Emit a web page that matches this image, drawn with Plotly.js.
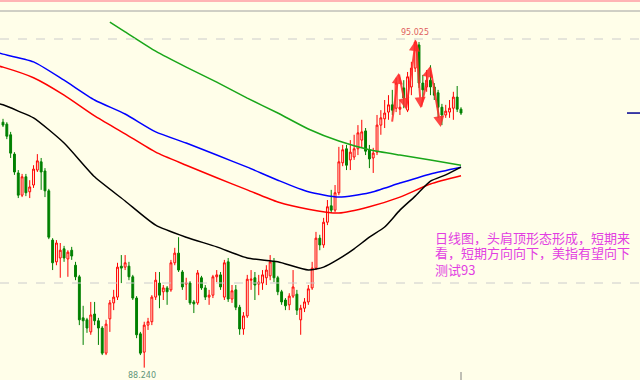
<!DOCTYPE html>
<html><head><meta charset="utf-8">
<script src="https://cdn.plot.ly/plotly-3.0.1.min.js"></script>
<style>html,body{margin:0;padding:0;background:#fffee9;}#chart{width:640px;height:380px;}</style>
</head><body><div id="chart"></div>
<script>
// Daily candles (USD index), oldest -> newest
const openP = [93.32,93.28,93.06,92.66,92.27,91.81,92.19,91.88,92.02,92.33,92.50,92.31,91.90,90.88,90.43,90.51,90.70,90.49,90.67,90.36,90.12,
89.27,89.23,88.98,89.35,89.21,89.06,88.54,89.25,89.58,89.70,90.34,90.32,90.34,90.12,89.68,88.94,88.56,89.12,89.19,89.70,89.99,89.81,89.89,89.85,90.41,90.61,90.22,89.97,89.99,89.60,89.58,
90.10,89.89,89.70,89.74,90.12,90.16,89.70,90.43,89.66,89.85,89.49,89.04,89.31,90.05,90.10,89.97,89.99,90.10,90.14,90.43,90.10,89.81,89.64,89.54,89.72,89.76,89.23,89.47,89.60,89.89,90.30,90.92,90.78,91.25,91.59,91.50,
91.86,92.48,92.77,92.54,92.60,92.77,92.95,93.14,92.75,92.58,92.70,93.26,93.39,93.53,93.68,93.61,93.59,94.03,93.57,94.05,94.44,94.92,94.13,94.05,94.19,94.05,93.93,93.63,93.47,93.53,93.61,93.84,93.59];
const closeP = [93.26,93.03,92.68,92.29,91.81,92.19,91.86,91.98,92.35,92.52,92.29,91.90,90.94,90.41,90.82,90.67,90.51,90.63,90.55,90.12,89.23,
89.21,89.06,89.33,89.21,89.06,88.54,89.14,89.58,89.70,90.32,90.30,90.41,90.12,89.68,88.92,88.54,89.12,89.19,89.70,90.05,89.74,89.89,89.81,90.41,90.61,90.26,89.91,89.99,89.58,89.56,90.20,
89.89,89.70,89.74,90.12,90.16,89.91,90.41,89.66,89.83,89.49,89.04,89.31,90.07,90.07,89.95,90.01,90.16,90.26,90.43,90.10,89.81,89.60,89.52,89.72,89.91,89.43,89.47,89.60,89.87,90.30,90.92,90.78,91.25,91.57,91.50,91.86,
92.50,92.75,92.43,92.70,92.77,93.10,93.12,92.72,92.56,92.68,93.26,93.41,93.51,93.68,93.57,94.13,93.63,93.82,94.26,94.44,94.98,94.13,93.99,94.19,94.05,93.88,93.63,93.47,93.55,93.61,93.84,93.59,93.51];
const highP = [93.39,93.32,93.12,92.70,92.33,92.25,92.25,92.12,92.43,92.66,92.58,92.37,91.94,90.92,90.88,90.82,90.76,90.67,90.74,90.43,90.16,
89.52,89.27,89.60,89.60,89.27,89.10,89.23,89.64,89.85,90.41,90.57,90.57,90.43,90.16,89.72,88.98,89.19,89.27,89.74,90.22,90.22,89.95,89.93,90.47,90.72,90.94,90.26,90.10,90.03,89.64,90.26,
90.14,89.95,89.85,90.16,90.26,90.22,90.47,90.51,89.95,89.95,89.54,89.39,90.16,90.26,90.22,90.16,90.26,90.36,90.57,90.51,90.14,89.85,89.68,89.78,90.26,89.85,89.54,89.68,89.95,90.43,91.05,90.99,91.34,91.71,91.92,92.02,
92.81,92.85,92.85,92.95,93.06,93.26,93.37,93.20,92.85,92.79,93.47,93.57,93.78,93.88,93.99,94.24,93.78,94.19,94.36,94.57,95.025,94.98,94.30,94.40,94.50,94.13,93.99,93.70,93.68,93.78,93.95,94.07,93.63];
const lowP = [93.22,92.97,92.58,92.23,91.75,91.77,91.79,91.75,91.96,92.29,91.92,91.77,90.90,90.26,90.36,90.10,90.43,90.12,90.47,90.05,89.12,
88.71,88.96,88.92,89.12,88.71,88.50,88.50,88.98,89.43,89.64,89.99,90.26,90.05,89.64,88.85,88.50,88.24,89.02,89.12,89.64,89.47,89.64,89.54,89.81,90.36,90.22,89.85,89.64,89.54,89.37,89.54,
89.85,89.64,89.54,89.68,90.01,89.85,89.64,89.60,89.58,89.43,88.92,88.92,89.27,89.85,89.64,89.74,89.85,89.95,90.05,90.01,89.74,89.54,89.43,89.43,89.68,89.33,88.92,89.39,89.54,89.85,90.26,90.67,90.72,91.19,91.44,91.46,
91.81,92.41,92.33,92.33,92.54,92.64,92.79,92.64,92.37,92.27,92.64,93.06,93.20,93.37,93.47,93.53,93.47,93.61,93.53,93.88,94.36,94.03,93.78,93.95,93.88,93.78,93.41,93.26,93.41,93.41,93.37,93.53,93.47];

// Moving averages (sampled at candle indices)
const maIdx = [-1,0,8,16,24,32,40,48,56,64,72,80,88,96,104,112,120];
const maBlue = [94.75,94.73,94.57,94.19,93.78,93.49,93.12,92.89,92.64,92.39,92.12,91.88,91.77,91.86,92.06,92.25,92.39];
const maRed  = [94.48,94.46,94.24,93.88,93.45,93.08,92.70,92.43,92.17,91.92,91.67,91.52,91.44,91.57,91.77,92.04,92.21];
const blackIdx = [-1,0,4,8,16,24,32,40,48,56,64,72,80,84,88,92,96,100,104,108,112,116,120];
const maBlack = [93.70,93.68,93.55,93.41,92.89,92.19,91.69,91.19,90.94,90.74,90.51,90.43,90.26,90.32,90.49,90.70,90.94,91.15,91.50,91.79,92.10,92.23,92.39];
const greenIdx = [28,32,40,48,56,64,72,80,88,96,104,112,120];
const maGreen = [95.39,95.19,94.79,94.46,94.15,93.82,93.51,93.18,92.93,92.75,92.64,92.54,92.43];

// Head-and-shoulders zigzag drawn with arrows
const zigX = [101.9,103.7,105.6,108.2,109.5,111.9,114.7];
const zigY = [93.30,94.34,93.59,95.02,93.61,94.48,93.22];

const highLabel = '95.025', lowLabel = '88.240';
const noteLines = ['日线图，头肩顶形态形成，短期来', '看，短期方向向下，美指有望向下', '测试93'];

const BG = '#fffee9';
const xs = openP.map((_, i) => i);
const hiIdx = highP.indexOf(Math.max(...highP));
const loIdx = lowP.indexOf(Math.min(...lowP));

const traces = [
  {type:'candlestick', x:xs, open:openP, high:highP, low:lowP, close:closeP,
   increasing:{line:{color:'#ff0000', width:1}, fillcolor:BG},
   decreasing:{line:{color:'#008000', width:1}, fillcolor:'#008000'},
   whiskerwidth:0, hoverinfo:'skip', showlegend:false},
  {type:'scatter', mode:'lines', x:greenIdx, y:maGreen, line:{color:'#19a619', width:1.5, shape:'spline', smoothing:0.6}, hoverinfo:'skip', showlegend:false},
  {type:'scatter', mode:'lines', x:maIdx, y:maBlue, line:{color:'#0000ff', width:1.5, shape:'spline', smoothing:0.6}, hoverinfo:'skip', showlegend:false},
  {type:'scatter', mode:'lines', x:maIdx, y:maRed, line:{color:'#ff0000', width:1.5, shape:'spline', smoothing:0.6}, hoverinfo:'skip', showlegend:false},
  {type:'scatter', mode:'lines', x:blackIdx, y:maBlack, line:{color:'#000000', width:1.5, shape:'spline', smoothing:0.6}, hoverinfo:'skip', showlegend:false}
];

const annotations = [];
for (let k = 0; k < zigX.length - 1; k++) {
  annotations.push({x:zigX[k+1], y:zigY[k+1], ax:zigX[k], ay:zigY[k], xref:'x', yref:'y', axref:'x', ayref:'y',
    text:'', showarrow:true, arrowhead:2, arrowsize:1.1, arrowwidth:2, arrowcolor:'rgba(255,40,40,0.85)'});
}
annotations.push({x:hiIdx, y:highP[hiIdx], xref:'x', yref:'y', text:highLabel, showarrow:false, yanchor:'bottom', yshift:1,
  font:{family:'DejaVu Sans, Arial', size:8, color:'#e06060'}});
annotations.push({x:loIdx - 0.5, y:lowP[loIdx], xref:'x', yref:'y', text:lowLabel, showarrow:false, yanchor:'top', yshift:-1,
  font:{family:'DejaVu Sans, Arial', size:8, color:'#5f957a'}});
const lineCenters = [237, 253, 269];
noteLines.forEach((t, k) => {
  annotations.push({x:434/640, y:1-lineCenters[k]/380, xref:'paper', yref:'paper', xanchor:'left', yanchor:'middle', align:'left',
    height:15, borderpad:0, text:t, showarrow:false, font:{family:'Noto Sans CJK SC', size:13, color:'#e23ee2'}});
});

const shapes = [
  {type:'line', xref:'paper', yref:'paper', x0:0, x1:1, y0:1-1/380, y1:1-1/380, line:{color:'#ffb4b4', width:2}},
  {type:'line', xref:'paper', yref:'paper', x0:0, x1:1, y0:1-11/380, y1:1-11/380, line:{color:'#a0a0a0', width:1}},
  {type:'line', xref:'paper', yref:'paper', x0:0, x1:1, y0:1-39/380, y1:1-39/380, line:{color:'#cccccc', width:1, dash:'dash'}},
  {type:'line', xref:'paper', yref:'paper', x0:0, x1:1, y0:1-283/380, y1:1-283/380, line:{color:'#cccccc', width:1, dash:'dash'}},
  {type:'line', xref:'paper', yref:'y', x0:627/640, x1:1, y0:closeP[closeP.length-1], y1:closeP[closeP.length-1], line:{color:'#000090', width:1.5}},
  {type:'line', xref:'x', yref:'paper', x0:120, x1:120, y0:0, y1:8/380, line:{color:'#808080', width:1}}
];

const layout = {
  width:640, height:380, margin:{l:0, r:0, t:0, b:0, pad:0},
  paper_bgcolor:BG, plot_bgcolor:BG, showlegend:false, dragmode:false,
  xaxis:{range:[-0.786, 166.9], visible:false, rangeslider:{visible:false}, fixedrange:true},
  yaxis:{range:[87.984, 95.85], visible:false, fixedrange:true},
  annotations:annotations, shapes:shapes
};
Plotly.newPlot('chart', traces, layout, {displayModeBar:false, staticPlot:true});
</script>
</body></html>
